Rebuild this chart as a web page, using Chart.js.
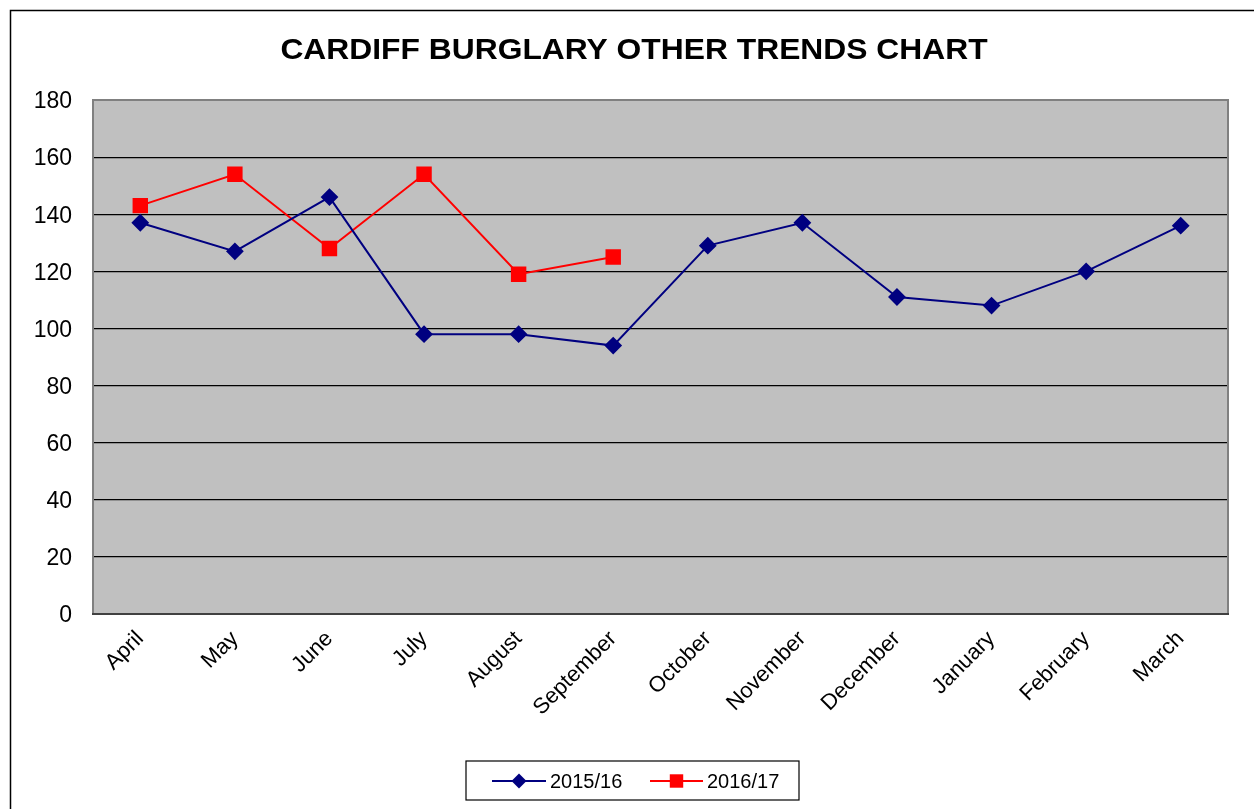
<!DOCTYPE html>
<html>
<head>
<meta charset="utf-8">
<script src="https://cdn.jsdelivr.net/npm/chart.js@4/dist/chart.umd.min.js"></script>
<style>
  html, body { margin: 0; padding: 0; background: #fff; }
  #wrap { width: 1254px; height: 809px; position: relative; }
</style>
</head>
<body>
<div id="wrap"><canvas id="c" width="1254" height="809"></canvas></div>
<script>
const chartTitle = 'CARDIFF BURGLARY OTHER TRENDS CHART';
const months = ['April','May','June','July','August','September','October','November','December','January','February','March'];
const series2015 = [137, 127, 146, 98, 98, 94, 129, 137, 111, 108, 120, 136];
const series2016 = [143, 154, 128, 154, 119, 125];
const seriesLabels = ['2015/16', '2016/17'];
const yTicks = [0, 20, 40, 60, 80, 100, 120, 140, 160, 180];

const FONT = '"Liberation Sans", Arial, sans-serif';

function drawMarker(ctx, style, x, y, r, color) {
  ctx.save();
  ctx.fillStyle = color;
  ctx.beginPath();
  if (style === 'rectRot') {
    ctx.moveTo(x, y - r); ctx.lineTo(x + r, y); ctx.lineTo(x, y + r); ctx.lineTo(x - r, y);
    ctx.closePath();
  } else {
    const s = r * Math.SQRT1_2;
    ctx.rect(x - s, y - s, 2 * s, 2 * s);
  }
  ctx.fill();
  ctx.restore();
}

const framePlugin = {
  id: 'frame',
  beforeDraw(chart) {
    const ctx = chart.ctx;
    ctx.save();
    ctx.fillStyle = '#fff';
    ctx.fillRect(0, 0, chart.width, chart.height);
    ctx.strokeStyle = '#000';
    ctx.lineWidth = 1.5;
    ctx.beginPath();
    ctx.moveTo(10.5, chart.height + 5);
    ctx.lineTo(10.5, 10.5);
    ctx.lineTo(chart.width + 5, 10.5);
    ctx.stroke();
    const a = chart.chartArea;
    ctx.fillStyle = '#c0c0c0';
    ctx.fillRect(a.left, a.top, a.right - a.left, a.bottom - a.top);
    // title (slightly stretched horizontally, like the reference)
    ctx.save();
    ctx.translate(634, 51);
    ctx.scale(1.06, 1);
    ctx.fillStyle = '#000';
    ctx.font = 'bold 30px ' + FONT;
    ctx.textAlign = 'center';
    ctx.textBaseline = 'middle';
    ctx.fillText(chartTitle, 0, 0);
    ctx.restore();
    ctx.restore();
  },
  afterDatasetsDraw(chart) {
    const ctx = chart.ctx;
    const a = chart.chartArea;
    ctx.save();
    ctx.strokeStyle = '#808080';
    ctx.lineWidth = 2;
    ctx.beginPath();
    ctx.moveTo(a.left, a.bottom);
    ctx.lineTo(a.left, a.top);
    ctx.lineTo(a.right, a.top);
    ctx.lineTo(a.right, a.bottom);
    ctx.stroke();
    ctx.strokeStyle = '#404040';
    ctx.beginPath();
    ctx.moveTo(a.left - 1, a.bottom);
    ctx.lineTo(a.right + 1, a.bottom);
    ctx.stroke();
    ctx.restore();
  },
  afterDraw(chart) {
    const ctx = chart.ctx;
    ctx.save();
    ctx.strokeStyle = '#000';
    ctx.lineWidth = 1.2;
    ctx.strokeRect(466, 761, 333, 39);
    const items = [
      { x0: 492, x1: 546, tx: 550 },
      { x0: 650, x1: 703, tx: 707 }
    ];
    const cy = 781;
    chart.data.datasets.forEach((ds, i) => {
      const it = items[i];
      ctx.strokeStyle = ds.borderColor;
      ctx.lineWidth = 2;
      ctx.beginPath();
      ctx.moveTo(it.x0, cy); ctx.lineTo(it.x1, cy);
      ctx.stroke();
      drawMarker(ctx, ds.pointStyle, (it.x0 + it.x1) / 2, cy, ds.pointRadius, ds.pointBackgroundColor);
      ctx.fillStyle = '#000';
      ctx.font = '20px ' + FONT;
      ctx.textBaseline = 'middle';
      ctx.textAlign = 'left';
      ctx.fillText(ds.label, it.tx, cy + 1);
    });
    ctx.restore();
  }
};

new Chart(document.getElementById('c'), {
  type: 'line',
  data: {
    labels: months,
    datasets: [
      {
        label: seriesLabels[0],
        data: series2015,
        borderColor: '#000080',
        backgroundColor: '#000080',
        pointBackgroundColor: '#000080',
        pointBorderColor: '#000080',
        pointStyle: 'rectRot',
        pointRadius: 7.5,
        pointHoverRadius: 7.5,
        borderWidth: 2,
        tension: 0,
        fill: false
      },
      {
        label: seriesLabels[1],
        data: series2016,
        borderColor: '#ff0000',
        backgroundColor: '#ff0000',
        pointBackgroundColor: '#ff0000',
        pointBorderColor: '#ff0000',
        pointStyle: 'rect',
        pointRadius: 9.5,
        pointHoverRadius: 9.5,
        borderWidth: 2,
        tension: 0,
        fill: false
      }
    ]
  },
  options: {
    responsive: false,
    animation: false,
    devicePixelRatio: 1,
    layout: { padding: { left: 0, right: 26, top: 100, bottom: 0 } },
    plugins: {
      legend: { display: false },
      tooltip: { enabled: false },
      title: { display: false }
    },
    scales: {
      x: {
        type: 'category',
        offset: true,
        grid: { display: false, drawTicks: false },
        border: { display: false },
        ticks: {
          color: '#000',
          font: { family: FONT, size: 22 },
          maxRotation: 45,
          minRotation: 45,
          autoSkip: false,
          padding: 12
        },
        afterFit(scale) { scale.height = 195; }
      },
      y: {
        min: 0,
        max: 180,
        afterBuildTicks(scale) { scale.ticks = yTicks.map(v => ({ value: v })); },
        grid: { color: '#000', lineWidth: 1.2, drawTicks: false },
        border: { display: false },
        ticks: {
          color: '#000',
          font: { family: FONT, size: 23 },
          padding: 21,
          labelOffset: 2,
          stepSize: 20
        },
        afterFit(scale) { scale.width = 93; }
      }
    }
  },
  plugins: [framePlugin]
});
</script>
</body>
</html>
